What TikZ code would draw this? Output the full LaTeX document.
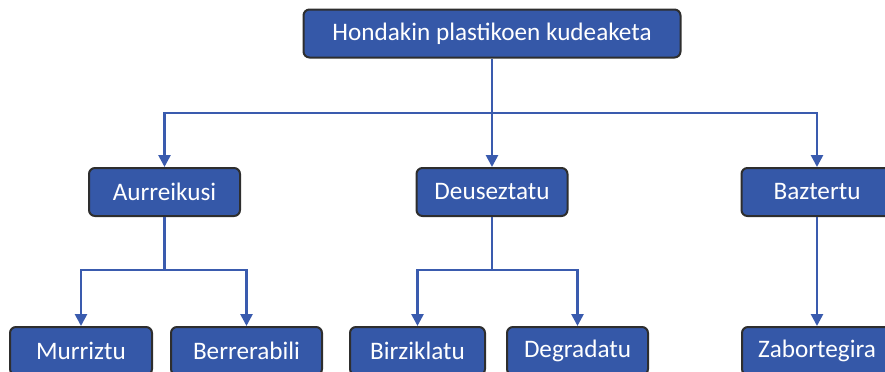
\documentclass[tikz,border=0pt]{standalone}
\usepackage{fontspec}
\setmainfont{Carlito}
\usetikzlibrary{arrows.meta, positioning}

\definecolor{boxblue}{HTML}{3558A8}
\definecolor{lineblue}{HTML}{3A5BAE}
\definecolor{boxedge}{HTML}{2E2E2E}

\tikzset{
  box/.style={draw=boxedge, line width=1pt, fill=boxblue, rounded corners=3pt,
    text=white, minimum height=24pt, inner sep=0pt,
    font=\fontsize{12.6}{14}\selectfont},
  conn/.style={draw=lineblue, line width=1.3pt},
}

\begin{document}
\begin{tikzpicture}[x=0.5pt, y=-0.5pt, >={Triangle[length=6pt, width=6pt]}]
\useasboundingbox (0,0) rectangle (885,371);

\node[box, minimum width=188.5pt] (root) at (492,33.5) {Hondakin plastikoen kudeaketa};

\node[box, minimum width=75.5pt] (aurreikusi) at (164.5,192) {Aurreikusi};
\node[box, minimum width=75.5pt] (deuseztatu) at (492,192) {Deuseztatu};
\node[box, minimum width=75.5pt] (baztertu) at (817,192) {Baztertu};

\node[box, minimum width=71pt] (murriztu) at (81,351) {Murriztu};
\node[box, minimum width=75.5pt] (berrerabili) at (246.5,351) {Berrerabili};
\node[box, minimum width=67.5pt] (birziklatu) at (417.5,351) {Birziklatu};
\node[box, minimum width=70.5pt] (degradatu) at (577.5,351) {Degradatu};
\node[box, minimum width=75pt] (zabortegira) at (817,351) {Zabortegira};

\coordinate (bus1) at (492,113);
\coordinate (bus2) at (164.5,270);
\coordinate (bus3) at (492,270);

% goiko mailatik
\draw[conn] (root) -- (bus1);
\draw[conn,->] (bus1) -| (aurreikusi);
\draw[conn,->] (bus1) -| (deuseztatu);
\draw[conn,->] (bus1) -| (baztertu);

% beheko mailara
\draw[conn] (aurreikusi) -- (bus2);
\draw[conn,->] (bus2) -| (murriztu);
\draw[conn,->] (bus2) -| (berrerabili);

\draw[conn] (deuseztatu) -- (bus3);
\draw[conn,->] (bus3) -| (birziklatu);
\draw[conn,->] (bus3) -| (degradatu);

\draw[conn,->] (baztertu) -- (zabortegira);

\end{tikzpicture}
\end{document}
